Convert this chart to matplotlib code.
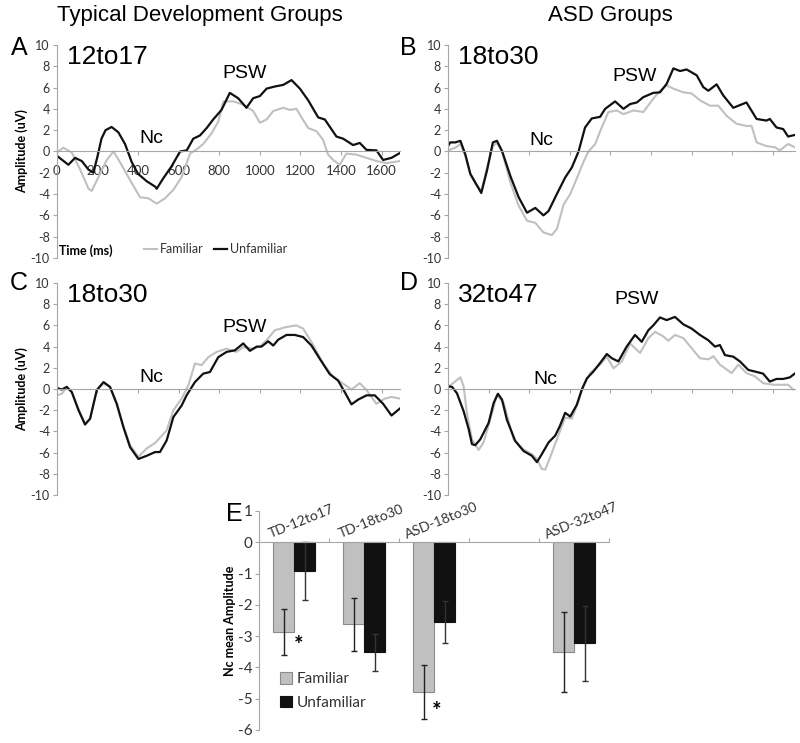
import matplotlib.pyplot as plt
import numpy as np

plt.rcParams['font.family'] = ['Lato', 'DejaVu Sans']
plt.rcParams['axes.unicode_minus'] = False

# ERP waveforms (time in ms, amplitude in uV)
a_fam_t = [0, 33, 74, 115, 156, 172, 213, 246, 279, 311, 361, 410, 451, 492, 533, 574, 615, 656, 689, 721,
           762, 795, 820, 869, 918, 967, 1000, 1033, 1066, 1115, 1148, 1180, 1205, 1238, 1279, 1311, 1336,
           1361, 1393, 1426, 1475, 1525, 1574, 1623, 1689]
a_fam_v = [-0.1, 0.35, -0.1, -1.7, -3.5, -3.7, -2.1, -0.8, 0.0, -1.0, -2.7, -4.3, -4.4, -4.9, -4.4, -3.6, -2.4,
           -0.2, 0.2, 0.7, 1.7, 2.8, 4.7, 4.7, 4.4, 3.8, 2.7, 3.0, 3.8, 4.1, 3.9, 4.0, 3.2, 2.2, 1.9, 1.1, -0.3,
           -0.8, -1.25, -0.2, -0.3, -0.6, -0.9, -1.1, -0.9]
a_unf_t = [0, 57, 90, 123, 156, 180, 200, 220, 240, 270, 303, 336, 369, 400, 443, 484, 492, 525, 565, 607, 640,
           672, 705, 738, 770, 811, 852, 893, 934, 967, 1000, 1033, 1074, 1115, 1156, 1197, 1238, 1287, 1320,
           1377, 1410, 1459, 1492, 1525, 1574, 1607, 1648, 1689]
a_unf_v = [-0.4, -1.25, -0.6, -0.9, -1.7, -2.0, -0.5, 1.2, 2.0, 2.3, 1.8, 0.7, -1.0, -2.1, -2.8, -3.3, -3.5, -2.5,
           -1.4, 0.0, 0.1, 1.2, 1.5, 2.2, 3.0, 3.9, 5.5, 5.0, 4.1, 5.0, 5.2, 5.9, 6.1, 6.25, 6.7, 5.9, 4.8, 3.2,
           3.0, 1.4, 1.2, 0.6, 0.8, 0.15, 0.1, -0.8, -0.6, -0.15]

b_fam_t = [0, 36, 61, 85, 110, 134, 164, 192, 221, 241, 266, 307, 348, 389, 430, 470, 511, 536, 569, 602, 636,
           669, 692, 725, 757, 790, 831, 864, 913, 962, 1011, 1044, 1077, 1110, 1159, 1200, 1241, 1290, 1331,
           1372, 1421, 1470, 1495, 1520, 1569, 1610, 1634, 1675, 1708]
b_fam_v = [0.1, 0.35, 0.7, -0.4, -2.2, -3.0, -3.7, -1.5, 0.5, 0.8, 0.0, -2.9, -5.1, -6.5, -6.7, -7.6, -7.85,
           -7.3, -5.0, -4.0, -2.45, -0.9, 0.0, 0.7, 2.25, 3.7, 3.85, 3.5, 3.85, 3.7, 4.95, 5.7, 6.2, 5.9, 5.55,
           5.45, 4.8, 4.3, 4.3, 3.35, 2.6, 2.4, 2.4, 0.85, 0.5, 0.4, 0.1, 0.7, 0.4]
b_unf_t = [0, 11, 36, 61, 85, 110, 134, 164, 192, 221, 241, 266, 307, 348, 389, 430, 470, 495, 536, 577, 610,
           643, 675, 708, 749, 774, 823, 864, 897, 930, 962, 1011, 1044, 1077, 1110, 1143, 1175, 1225, 1257,
           1282, 1323, 1356, 1405, 1470, 1520, 1569, 1585, 1618, 1651, 1675, 1708]
b_unf_v = [0.5, 0.85, 0.85, 1.0, -0.25, -2.1, -2.9, -3.9, -1.8, 0.85, 1.0, 0.05, -2.3, -4.3, -5.75, -5.3, -6.0,
           -5.6, -4.0, -2.45, -1.5, 0.0, 2.25, 3.1, 3.25, 4.0, 4.7, 4.0, 4.45, 4.6, 5.1, 5.5, 5.55, 6.35, 7.8,
           7.55, 7.7, 7.15, 6.05, 5.7, 6.3, 5.25, 4.1, 4.6, 3.05, 2.9, 3.05, 2.25, 2.1, 1.4, 1.55]

c_fam_t = [0, 25, 49, 74, 107, 139, 164, 197, 230, 262, 295, 328, 361, 402, 443, 484, 541, 574, 615, 648, 680,
           713, 746, 787, 836, 885, 918, 967, 1000, 1033, 1074, 1131, 1180, 1213, 1254, 1311, 1361, 1410, 1451,
           1492, 1525, 1574, 1615, 1648, 1689]
c_fam_v = [-0.6, -0.45, 0.2, -0.3, -1.9, -3.3, -2.8, -0.1, 0.5, 0.2, -1.3, -3.5, -5.3, -6.4, -5.6, -5.1, -3.9,
           -2.0, -0.9, 0.35, 2.4, 2.25, 3.0, 3.5, 3.8, 3.5, 3.95, 3.8, 4.0, 4.6, 5.55, 5.85, 6.0, 5.7, 4.45, 2.4,
           1.15, 0.5, -0.05, 0.55, -0.1, -1.4, -0.9, -0.75, -0.9]
c_unf_t = [0, 25, 49, 74, 107, 139, 164, 197, 230, 262, 295, 328, 361, 402, 443, 484, 508, 541, 574, 615, 639,
           680, 721, 754, 795, 836, 877, 918, 951, 984, 1008, 1041, 1066, 1090, 1131, 1172, 1213, 1254, 1295,
           1344, 1385, 1418, 1451, 1484, 1525, 1566, 1607, 1648, 1689]
c_unf_v = [0.1, -0.05, 0.2, -0.3, -2.0, -3.35, -2.8, -0.1, 0.65, 0.2, -1.4, -3.6, -5.5, -6.6, -6.3, -5.95, -5.95,
           -4.85, -2.65, -1.55, -0.6, 0.65, 1.45, 1.6, 3.0, 3.5, 3.65, 4.3, 3.6, 4.0, 4.0, 4.5, 4.1, 4.65, 5.1,
           5.1, 4.9, 4.1, 2.85, 1.4, 0.8, -0.3, -1.45, -1.0, -0.6, -0.6, -1.4, -2.5, -1.85]

d_fam_t = [0, 28, 61, 77, 93, 118, 151, 175, 208, 241, 274, 323, 372, 413, 438, 462, 479, 503, 536, 577, 610,
           643, 667, 700, 749, 782, 815, 856, 897, 921, 946, 987, 1020, 1061, 1085, 1118, 1159, 1200, 1241,
           1282, 1307, 1339, 1397, 1430, 1470, 1511, 1552, 1603, 1651, 1675, 1700]
d_fam_v = [0.2, 0.6, 1.1, 0.25, -2.25, -4.75, -5.75, -5.05, -2.9, -0.55, -1.3, -4.75, -5.7, -6.15, -6.6, -7.55,
           -7.6, -6.45, -4.75, -2.7, -2.8, -1.15, 0.25, 1.5, 2.3, 3.05, 1.95, 2.6, 4.3, 3.85, 3.4, 4.8, 5.4,
           4.95, 4.55, 5.1, 4.8, 3.85, 2.9, 2.8, 3.1, 2.3, 1.5, 2.3, 1.5, 1.2, 0.55, 0.4, 0.4, 0.4, -0.05]
d_unf_t = [0, 20, 44, 77, 102, 118, 134, 159, 200, 225, 246, 266, 290, 331, 372, 413, 438, 462, 495, 528, 551,
           577, 602, 634, 659, 684, 716, 749, 782, 807, 839, 880, 921, 954, 987, 1011, 1044, 1077, 1118, 1159,
           1200, 1241, 1282, 1315, 1339, 1364, 1405, 1438, 1479, 1511, 1552, 1585, 1618, 1651, 1684, 1708]
d_unf_v = [0.25, 0.2, -0.4, -2.1, -3.8, -5.2, -5.3, -4.75, -3.2, -1.3, -0.45, -1.0, -2.9, -4.9, -5.85, -6.3,
           -6.9, -6.15, -5.05, -4.4, -3.5, -2.25, -2.6, -1.5, -0.05, 1.0, 1.65, 2.45, 3.3, 2.9, 2.6, 4.0, 5.1,
           4.45, 5.55, 6.0, 6.75, 6.5, 6.8, 6.1, 5.7, 5.1, 4.6, 4.0, 4.15, 3.2, 3.05, 2.6, 1.8, 1.65, 1.45, 0.7,
           0.95, 0.95, 1.1, 1.45]

# Nc mean amplitude (panel E)
groups = ['TD-12to17', 'TD-18to30', 'ASD-18to30', '', 'ASD-32to47']
fam_mean = [-2.87, -2.62, -4.79, np.nan, -3.50]
unf_mean = [-0.93, -3.52, -2.54, np.nan, -3.23]
fam_err = [0.73, 0.85, 0.87, np.nan, 1.27]
unf_err = [0.93, 0.60, 0.67, np.nan, 1.20]

FAM = '#c0c0c0'
UNF = '#111111'
AX = '#a6a6a6'
arial = ['Liberation Sans', 'DejaVu Sans']

fig = plt.figure(figsize=(8, 7.43), dpi=100)


def erp(rect, ft, fv, ut, uv, xmax, name, labels=False):
    ax = fig.add_axes(rect)
    ax.plot(ft, fv, color=FAM, lw=1.5, label='Familiar')
    ax.plot(ut, uv, color=UNF, lw=1.6, label='Unfamiliar')
    ax.set_xlim(0, xmax)
    ax.set_ylim(-10, 10)
    for s in ['top', 'right']:
        ax.spines[s].set_visible(False)
    ax.spines['bottom'].set_position(('data', 0))
    ax.spines['bottom'].set_color(AX)
    ax.spines['left'].set_color(AX)
    ax.set_yticks(range(-10, 11, 2))
    ax.set_xticks(range(0, 1700, 200))
    if not labels:
        ax.set_xticklabels([])
    ax.tick_params(axis='x', direction='out', length=3, color=AX, labelsize=9.5,
                   labelcolor='#333333', pad=7)
    ax.tick_params(axis='y', direction='out', length=3, color=AX, labelsize=9,
                   labelcolor='#333333', pad=2)
    ax.text(0.03, 0.945, name, transform=ax.transAxes, fontsize=19, family=arial,
            ha='left', va='center')
    return ax


axA = erp([0.071, 0.6528, 0.429, 0.2867], a_fam_t, a_fam_v, a_unf_t, a_unf_v, 1690, '12to17', labels=True)
axB = erp([0.56, 0.6528, 0.434, 0.2867], b_fam_t, b_fam_v, b_unf_t, b_unf_v, 1710, '18to30')
axC = erp([0.071, 0.3338, 0.429, 0.2853], c_fam_t, c_fam_v, c_unf_t, c_unf_v, 1690, '18to30')
axD = erp([0.56, 0.3338, 0.434, 0.2853], d_fam_t, d_fam_v, d_unf_t, d_unf_v, 1710, '32to47')

for ax, nc, psw in [(axA, (467, 1.25), (926, 7.3)), (axB, (462, 1.0), (921, 7.0)),
                    (axC, (467, 1.07), (926, 5.8)), (axD, (479, 0.94), (930, 8.4))]:
    ax.text(nc[0], nc[1], 'Nc', fontsize=14, family=arial, ha='center', va='center')
    ax.text(psw[0], psw[1], 'PSW', fontsize=14, family=arial, ha='center', va='center')

for ax in (axA, axC):
    ax.set_ylabel('Amplitude (uV)', fontsize=9, fontweight='bold', labelpad=2)

axA.text(10, -9.3, 'Time (ms)', fontsize=9, fontweight='bold', ha='left', va='center')
axA.legend(loc='center left', bbox_to_anchor=(0.22, 0.04), ncol=2, frameon=False, fontsize=9,
           handlelength=1.1, handletextpad=0.2, columnspacing=0.8, labelcolor='#333333')

# panel E
axE = fig.add_axes([0.324, 0.0175, 0.4375, 0.2948])
x = np.arange(len(groups))
w = 0.3
axE.bar(x - w / 2, fam_mean, w, color=FAM, edgecolor='#8a8a8a', lw=0.8, label='Familiar')
axE.bar(x + w / 2, unf_mean, w, color=UNF, edgecolor=UNF, lw=0.8, label='Unfamiliar')
axE.errorbar(x - w / 2, fam_mean, yerr=fam_err, fmt='none', ecolor='#222222', elinewidth=1, capsize=2)
axE.errorbar(x + w / 2, unf_mean, yerr=unf_err, fmt='none', ecolor='#333333', elinewidth=1, capsize=2)
axE.set_xlim(-0.5, len(groups) - 0.5)
axE.set_ylim(-6, 1)
for s in ['top', 'right']:
    axE.spines[s].set_visible(False)
axE.spines['bottom'].set_position(('data', 0))
axE.spines['bottom'].set_color(AX)
axE.spines['left'].set_color(AX)
axE.set_xticks(np.arange(len(groups) + 1) - 0.5)
axE.set_xticklabels([])
axE.tick_params(axis='x', direction='in', length=3, color=AX)
axE.tick_params(axis='y', direction='out', length=3, color=AX, labelsize=11, labelcolor='#333333', pad=2)
axE.set_yticks(range(-6, 2))
for i, g in enumerate(groups):
    axE.text(i + 0.1, 0.68, g, rotation=22, fontsize=10, ha='center', va='center', color='#333333')
axE.text(0.06, -3.3, '*', fontsize=16, fontweight='bold', ha='center', va='center')
axE.text(2.03, -5.4, '*', fontsize=16, fontweight='bold', ha='center', va='center')
axE.set_ylabel('Nc mean Amplitude', fontsize=9, fontweight='bold', labelpad=1)
axE.legend(loc='lower left', bbox_to_anchor=(0.02, 0.03), frameon=False, fontsize=11,
           handlelength=0.8, handleheight=0.8, handletextpad=0.3, labelspacing=0.6, labelcolor='#333333')

# headings and panel letters
fig.text(0.25, 1 - 16 / 743, 'Typical Development Groups', fontsize=16, family=arial, ha='center', va='center')
fig.text(0.763, 1 - 16 / 743, 'ASD Groups', fontsize=16, family=arial, ha='center', va='center')
for lab, px, py in [('A', 19, 48), ('B', 408, 48), ('C', 19, 283), ('D', 409, 283), ('E', 234, 514)]:
    fig.text(px / 800, 1 - py / 743, lab, fontsize=18, family=arial, ha='center', va='center')

fig.savefig('out.png', dpi=100)
